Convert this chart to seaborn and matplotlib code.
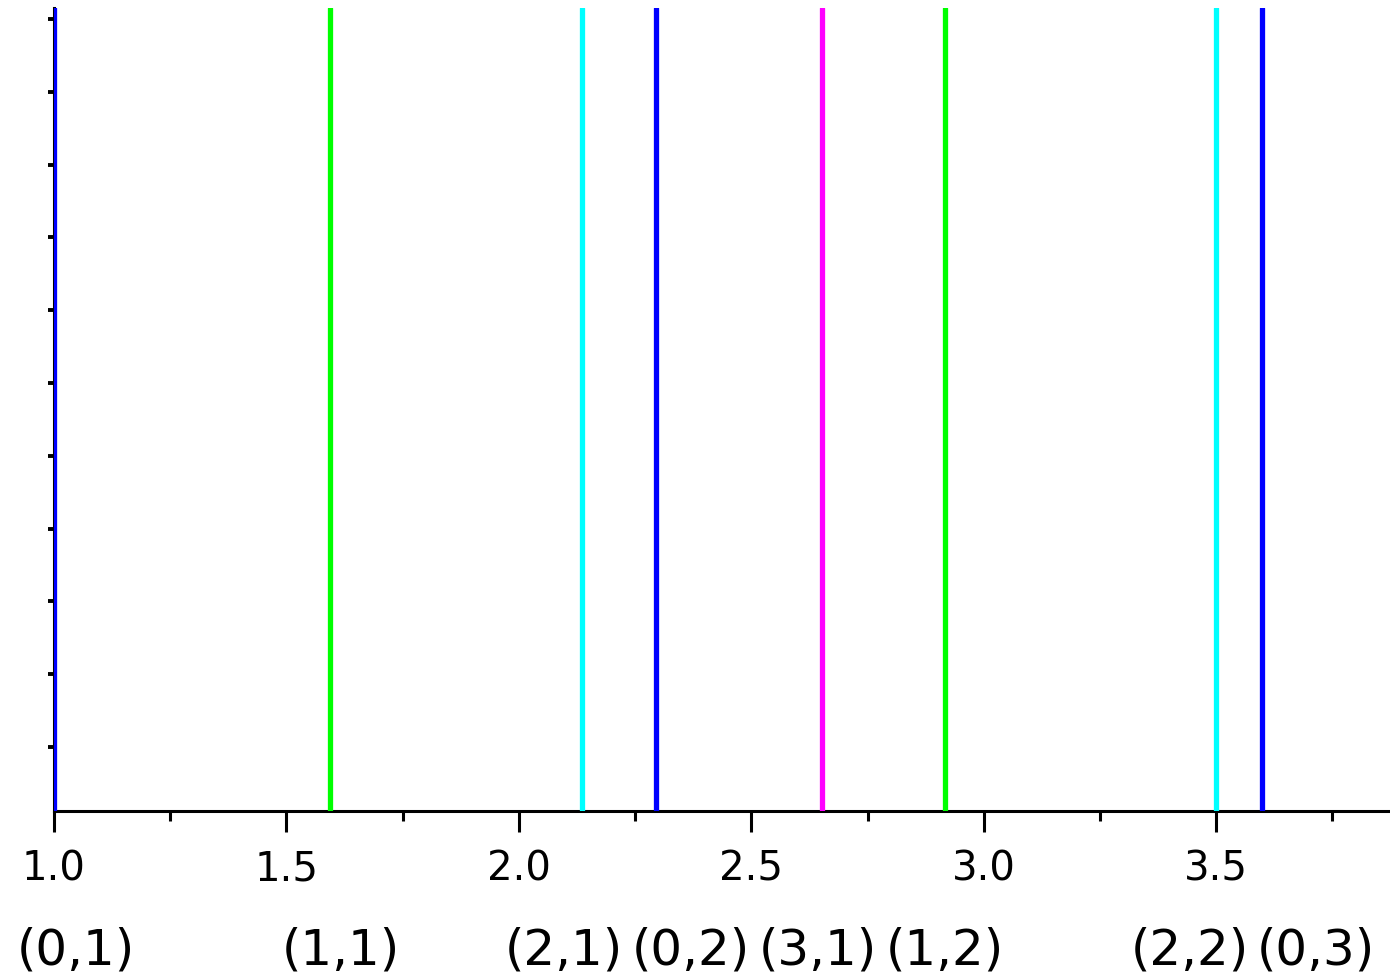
import numpy as np
import pandas as pd
import matplotlib
matplotlib.use("Agg")
import matplotlib.pyplot as plt
import matplotlib.transforms as mtransforms
import seaborn as sns

# Drum mode frequency ratios (Bessel zero ratios)
modes = ["(0,1)", "(1,1)", "(2,1)", "(0,2)", "(3,1)", "(1,2)", "(2,2)", "(0,3)"]
freqs = [1.0, 1.593, 2.1355, 2.2954, 2.6531, 2.9173, 3.5002, 3.5985]
m_index = [0, 1, 2, 0, 3, 1, 2, 0]
label_x = [1.047, 1.617, 2.097, 2.370, 2.644, 2.917, 3.444, 3.715]
xticks_major = [1.0, 1.5, 2.0, 2.5, 3.0, 3.5]
xticks_minor = [1.25, 1.75, 2.25, 2.75, 3.25, 3.75]
m_colors = ["#0000FF", "#00FF00", "#00FFFF", "#FF00FF"]

sns.set_style("white")
plt.rcParams["font.family"] = ["DejaVu Sans"]
plt.rcParams["text.color"] = "black"
plt.rcParams["xtick.color"] = "black"
plt.rcParams["ytick.color"] = "black"
plt.rcParams["xtick.labelcolor"] = "black"

fig = plt.figure(figsize=(13.9, 9.79), dpi=100)
ax = fig.add_axes([54 / 1390, 167 / 979, 1 - 54 / 1390, (812 - 9) / 979])

rows = []
for mode, f in zip(modes, freqs):
    rows.append({"mode": mode, "x": f, "y": 0.0})
    rows.append({"mode": mode, "x": f, "y": 1.0})
df = pd.DataFrame(rows)
palette = {mode: m_colors[m] for mode, m in zip(modes, m_index)}

sns.lineplot(data=df, x="x", y="y", hue="mode", palette=palette,
             estimator=None, sort=False, legend=False, linewidth=3.8,
             orient="y", ax=ax, zorder=5)

ax.set_xlim(1.0, 3.874)
ax.set_ylim(0, 1)
ax.set_xlabel("")
ax.set_ylabel("")

for s in ["top", "right"]:
    ax.spines[s].set_visible(False)
ax.spines["bottom"].set_linewidth(2.2)
ax.spines["bottom"].set_color("black")
ax.spines["left"].set_linewidth(2.2)
ax.spines["left"].set_color("black")

ax.set_xticks(xticks_major)
ax.set_xticklabels([f"{v:.1f}" for v in xticks_major], fontsize=29,
                   color="black")
ax.set_xticks(xticks_minor, minor=True)
ax.tick_params(axis="x", which="major", direction="out", length=15,
               width=2.2, color="black", pad=12, bottom=True)
ax.tick_params(axis="x", which="minor", direction="out", length=7.5,
               width=2.2, color="black", bottom=True)

yt = np.linspace(0.0797, 0.9863, 11)
ax.set_yticks(yt)
ax.set_yticklabels([])
ax.tick_params(axis="y", which="major", direction="out", length=4,
               width=2.8, color="black", left=True)

trans = mtransforms.blended_transform_factory(ax.transData, ax.transAxes)
for lab, lx in zip(modes, label_x):
    ax.text(lx, -0.172, lab, transform=trans, ha="center", va="center",
            fontsize=36, color="black", clip_on=False)

fig.savefig("out.png", dpi=100)
